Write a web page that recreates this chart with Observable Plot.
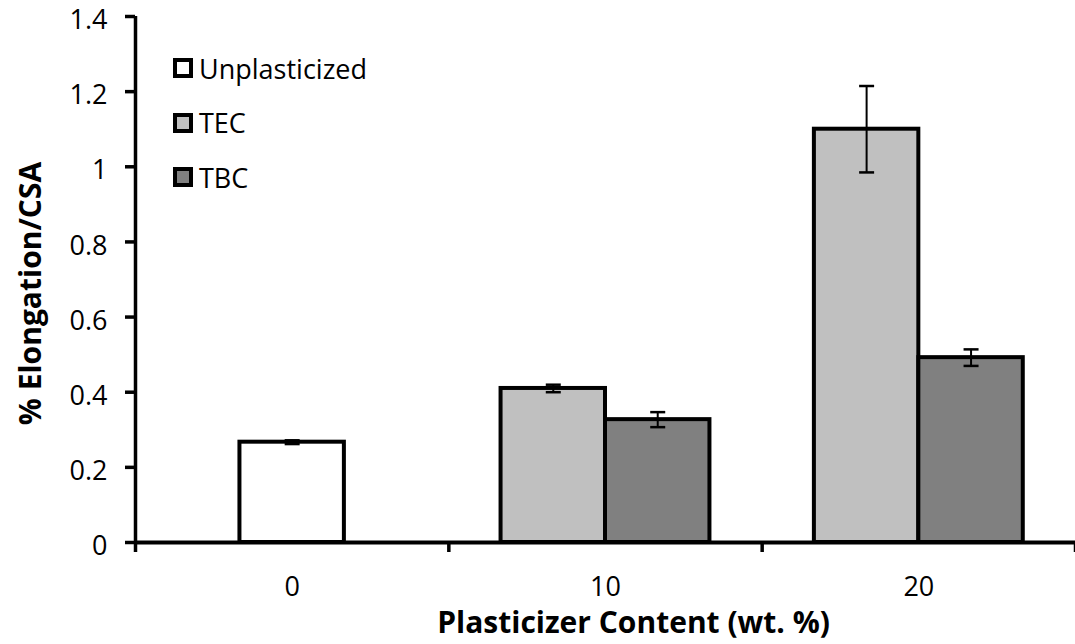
<!DOCTYPE html>
<html>
<head>
<meta charset="utf-8">
<script src="https://cdn.jsdelivr.net/npm/d3@7"></script>
<script src="https://cdn.jsdelivr.net/npm/@observablehq/plot@0.6"></script>
<style>
  html, body { margin: 0; padding: 0; background: #fff; }
  #wrap { position: relative; width: 1075px; height: 644px; font-family: "Open Sans", sans-serif; }
  #legend { position: absolute; left: 173px; top: 41px; }
  .item { display: flex; align-items: center; height: 54.5px; font-size: 27px; color: #000; }
  .sw { width: 12px; height: 12px; border: 4px solid #000; margin-right: 6px; box-sizing: content-box; }
</style>
</head>
<body>
<div id="wrap"><div id="legend"></div></div>
<script>
const categories = ["0", "10", "20"];
const seriesNames = ["Unplasticized", "TEC", "TBC"];
const unplasticized = [0.267, null, null];
const unplasticizedErr = [0.005, null, null];
const tec = [null, 0.41, 1.10];
const tecErr = [null, 0.01, 0.115];
const tbc = [null, 0.327, 0.492];
const tbcErr = [null, 0.02, 0.022];
const yTicks = [0, 0.2, 0.4, 0.6, 0.8, 1, 1.2, 1.4];
const yTickLabels = ["0", "0.2", "0.4", "0.6", "0.8", "1", "1.2", "1.4"];
const xTitle = "Plasticizer Content (wt. %)";
const yTitle = "% Elongation/CSA";

const seriesFill = ["#ffffff", "#c0c0c0", "#808080"];
const values = [unplasticized, tec, tbc];
const errors = [unplasticizedErr, tecErr, tbcErr];
const barW = 1 / 3;

const rows = [];
categories.forEach((c, i) => {
  const present = seriesNames.map((s, k) => k).filter(k => values[k][i] != null);
  const start = i + 0.5 - present.length * barW / 2;
  present.forEach((k, j) => {
    const x1 = start + j * barW;
    rows.push({category: c, series: seriesNames[k], value: values[k][i], err: errors[k][i],
      x1, x2: x1 + barW, xc: x1 + barW / 2});
  });
});

const capSymbol = {
  draw(ctx, size) { const w = Math.sqrt(size / Math.PI); ctx.moveTo(-w, 0); ctx.lineTo(w, 0); }
};

const chart = Plot.plot({
  width: 1075,
  height: 644,
  marginLeft: 135,
  marginRight: 0,
  marginTop: 16,
  marginBottom: 102,
  style: {fontFamily: "Open Sans, sans-serif", fontSize: "27px", color: "#000", background: "#fff", overflow: "visible"},
  x: {domain: [0, 3], axis: null},
  y: {domain: [0, 1.4], axis: null},
  color: {domain: seriesNames, range: seriesFill},
  marks: [
    Plot.rectY(rows, {x1: "x1", x2: "x2", y1: 0, y2: "value", fill: "series", stroke: "#000", strokeWidth: 4}),
    Plot.ruleX(rows, {x: "xc", y1: d => d.value - d.err, y2: d => d.value + d.err, stroke: "#000", strokeWidth: 2}),
    Plot.dot(rows, {x: "xc", y: d => d.value + d.err, symbol: capSymbol, r: 7.5, fill: "none", stroke: "#000", strokeWidth: 2.5}),
    Plot.dot(rows, {x: "xc", y: d => d.value - d.err, symbol: capSymbol, r: 7.5, fill: "none", stroke: "#000", strokeWidth: 2.5}),
    Plot.ruleX([0], {y1: 0, y2: 1.4, stroke: "#000", strokeWidth: 3.5}),
    Plot.ruleY([0], {stroke: "#000", strokeWidth: 4}),
    Plot.axisY({ticks: yTicks, tickFormat: () => "", tickSize: 10, strokeWidth: 3.5, label: null}),
    Plot.axisY({ticks: yTicks, tickFormat: (d, i) => yTickLabels[i], tickSize: 0, tickPadding: 28, fontSize: 27, dy: 4, label: null}),
    Plot.axisX({ticks: [0, 1, 2, 3], tickFormat: () => "", tickSize: 10, strokeWidth: 3.5, label: null}),
    Plot.axisX({ticks: categories.map((c, i) => i + 0.5), tickFormat: (d, i) => categories[i], tickSize: 0, tickPadding: 34, fontSize: 27, label: null}),
    Plot.text([xTitle], {frameAnchor: "bottom", textAnchor: "middle", dx: 28, dy: 90, fontSize: 30, fontWeight: "bold", fill: "#000"}),
    Plot.text([yTitle], {frameAnchor: "left", textAnchor: "middle", dx: -104, dy: 14, rotate: -90, fontSize: 30, fontWeight: "bold", fill: "#000"})
  ]
});
document.getElementById("wrap").prepend(chart);

const legend = document.getElementById("legend");
seriesNames.forEach((s, k) => {
  const item = document.createElement("div");
  item.className = "item";
  const sw = document.createElement("span");
  sw.className = "sw";
  sw.style.background = seriesFill[k];
  const t = document.createElement("span");
  t.textContent = s;
  item.append(sw, t);
  legend.append(item);
});
</script>
</body>
</html>
